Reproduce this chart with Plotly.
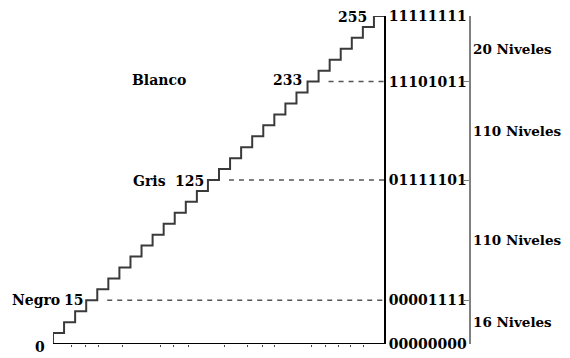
import plotly.graph_objects as go

# escalera de cuantificación (30 escalones dibujados)
escalera_x = [0, 0, 1, 2, 3, 4, 5, 6, 7, 8, 9, 10, 11, 12, 13, 14, 15, 16, 17, 18, 19,
              20, 21, 22, 23, 24, 25, 26, 27, 28, 29, 30]
escalera_y = [0, 1, 2, 3, 4, 5, 6, 7, 8, 9, 10, 11, 12, 13, 14, 15, 16, 17, 18, 19, 20,
              21, 22, 23, 24, 25, 26, 27, 28, 29, 30, 30]

# niveles marcados
marca_nombre = ["", "Negro", "Gris", "Blanco", ""]
marca_valor = [0, 15, 125, 233, 255]
marca_escalon = [0, 4, 15, 24, 30]
marca_binario = ["00000000", "00001111", "01111101", "11101011", "11111111"]
tramo_texto = ["16 Niveles", "110 Niveles", "110 Niveles", "20 Niveles"]

# marcas pequeñas del eje horizontal
marcas_x = [1.7, 2.9, 4.1, 6.3, 9.7, 10.9, 12.2, 15.5, 17.6, 18.9, 20.0,
            23.4, 24.6, 25.8, 26.9, 28.1]

# la página añade 8px de margen: se compensa restando 8 a todo
OFF = 8
W, H = 570 - OFF, 358 - OFF
ML, MR, MT, MB = 53 - OFF, 0, 14 - OFF, 14
px_por_x = 332 / 30
x_max = (W - ML - MR) / px_por_x


def paper_x(px):
    return (px - OFF - ML) / (W - ML - MR)


FONT = "DejaVu Serif"
TXT = dict(family=FONT, size=14, color="black")

# desplazamientos (px) de las etiquetas respecto al inicio del escalón
desp_valor = {0: (-6, -3), 4: (-1, 0), 15: (-2, -1), 24: (-4, 2), 30: (-5, -1)}
desp_nombre = {4: -24, 15: -40, 24: -120}

fig = go.Figure()

fig.add_trace(go.Scatter(x=escalera_x, y=escalera_y, mode="lines",
                         line=dict(color="#3a3a3a", width=2, shape="hv"),
                         hoverinfo="skip", showlegend=False))

# líneas discontinuas hacia el eje de códigos
for esc in marca_escalon[1:4]:
    fig.add_trace(go.Scatter(x=[esc + 0.9, 30], y=[esc, esc], mode="lines",
                             line=dict(color="#555555", width=1.5, dash="5px,5px"),
                             hoverinfo="skip", showlegend=False))

# eje horizontal
fig.add_shape(type="line", xref="x", yref="y", x0=0, x1=30, y0=0, y1=0,
              line=dict(color="black", width=2))

# etiquetas de nivel a la izquierda de la escalera
for nombre, valor, esc in zip(marca_nombre, marca_valor, marca_escalon):
    xs, ys = desp_valor[esc]
    xa = 0 if esc == 0 else esc - 1
    ya = 0 if esc == 0 else esc
    fig.add_annotation(x=xa, y=ya, xref="x", yref="y", text=f"<b>{valor}</b>",
                       xanchor="right", yanchor="middle", xshift=xs, yshift=ys,
                       showarrow=False, font=TXT)
    if nombre:
        fig.add_annotation(x=xa, y=ya, xref="x", yref="y", text=f"<b>{nombre}</b>",
                           xanchor="right", yanchor="middle", xshift=desp_nombre[esc],
                           yshift=ys, showarrow=False, font=TXT)

# textos de número de niveles entre marcas
for i, txt in enumerate(tramo_texto):
    ymid = (marca_escalon[i] + marca_escalon[i + 1]) / 2
    fig.add_annotation(x=paper_x(471), y=ymid, xref="paper", yref="y", text=f"<b>{txt}</b>",
                       xanchor="left", yanchor="middle", showarrow=False,
                       font=dict(family=FONT, size=13.5, color="black"))

fig.update_layout(
    width=W, height=H,
    margin=dict(l=ML, r=MR, t=MT, b=MB),
    paper_bgcolor="white", plot_bgcolor="white",
    showlegend=False,
    xaxis=dict(range=[0, x_max], showgrid=False, zeroline=False, showline=False,
               tickmode="array", tickvals=marcas_x, ticktext=[""] * len(marcas_x),
               ticks="outside", ticklen=2, tickwidth=1, tickcolor="#444444"),
    yaxis=dict(range=[0, 30], showgrid=False, zeroline=False, showline=True,
               linecolor="black", linewidth=2, anchor="free", side="right",
               position=paper_x(385), tickmode="array", tickvals=marca_escalon,
               ticktext=[f"<b>{b}</b>" for b in marca_binario], ticks="",
               ticklabeloverflow="allow", tickfont=TXT),
    yaxis2=dict(range=[0, 30], overlaying="y", showgrid=False, zeroline=False,
                showline=True, linecolor="#808080", linewidth=2, anchor="free",
                side="right", position=paper_x(470), tickmode="array",
                tickvals=marca_escalon, ticktext=[""] * 5, ticks="inside",
                ticklen=5, tickwidth=1, tickcolor="#808080"),
)
fig.add_trace(go.Scatter(x=[None], y=[None], yaxis="y2", showlegend=False))

fig.write_html("out.html")
